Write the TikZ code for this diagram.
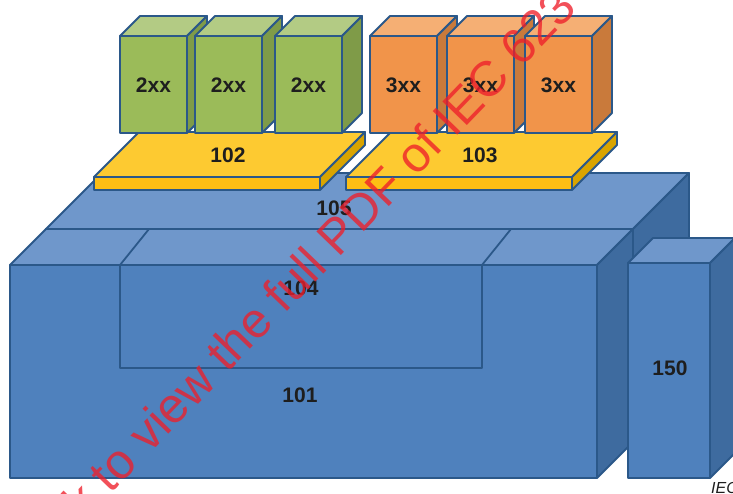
\documentclass[tikz,border=0pt]{standalone}
\usepackage{fontspec}
\setmainfont{Liberation Sans}
\definecolor{edge}{HTML}{2B5889}
\definecolor{blueF}{HTML}{4F81BD}
\definecolor{blueT}{HTML}{6F97CB}
\definecolor{blueS}{HTML}{3E6B9F}
\definecolor{greenF}{HTML}{9BBB59}
\definecolor{greenT}{HTML}{B3CB84}
\definecolor{greenS}{HTML}{7F9B48}
\definecolor{orangeF}{HTML}{F1944A}
\definecolor{orangeT}{HTML}{F5AF74}
\definecolor{orangeS}{HTML}{C97A3B}
\definecolor{yellowF}{HTML}{FDBE14}
\definecolor{yellowT}{HTML}{FDCA31}
\definecolor{yellowS}{HTML}{D9A400}
\definecolor{wmred}{HTML}{EE1F2A}
\definecolor{labeltxt}{HTML}{1E1E1E}

\begin{document}
\begin{tikzpicture}[x=1pt, y=-1pt, line join=round,
    face/.style={draw=edge, line width=1.8pt},
    lbl/.style={font=\fontsize{21}{21}\selectfont\bfseries, text=labeltxt},
    wmtext/.style={font=\fontsize{49.5}{49.5}\selectfont, text=wmred, text opacity=0.78,
        inner sep=0, anchor=base west, rotate=46},
    iec/.style={font=\fontsize{16}{16}\selectfont\itshape, text=labeltxt,
        inner sep=0, anchor=base west}]
    % x y w h depth front top side
    \def\cuboid#1#2#3#4#5#6#7#8{%
        \filldraw[face, fill=#6] (#1,#2) rectangle ++(#3,#4);
        \filldraw[face, fill=#7] (#1,#2) -- ++(#5,-#5) -- ++(#3,0) -- ++(-#5,#5) -- cycle;
        \filldraw[face, fill=#8] (#1,#2) ++(#3,0) -- ++(#5,-#5) -- ++(0,#4) -- ++(-#5,#5) -- cycle;
    }
    \clip (0,0) rectangle (733,493);

    % Back slab 105
    \cuboid{46}{229}{587}{70}{56}{blueF}{blueT}{blueS}
    % Main box 101
    \cuboid{10}{265}{587}{213}{36}{blueF}{blueT}{blueS}
    % Inset 104
    \draw[face] (149,229) -- (120,265) -- (120,368) -- (482,368) -- (482,265) -- (511,229);
    % Box 150
    \cuboid{628}{263}{82}{215}{25}{blueF}{blueT}{blueS}

    % Plates
    \cuboid{94}{177}{226}{13}{45}{yellowF}{yellowT}{yellowS}
    \cuboid{346}{177}{226}{13}{45}{yellowF}{yellowT}{yellowS}

    % Modules
    \foreach \x in {120,195,275}{
        \cuboid{\x}{36}{67}{97}{20}{greenF}{greenT}{greenS}
    }
    \foreach \x in {370,447,525}{
        \cuboid{\x}{36}{67}{97}{20}{orangeF}{orangeT}{orangeS}
    }

    % Labels
    \node[lbl] (m21) at (153.5,85) {2xx};
    \node[lbl] (m22) at (228.5,85) {2xx};
    \node[lbl] (m23) at (308.5,85) {2xx};
    \node[lbl] (m31) at (403.5,85) {3xx};
    \node[lbl] (m32) at (480.5,85) {3xx};
    \node[lbl] (m33) at (558.5,85) {3xx};
    \node[lbl] (p102) at (228,155) {102};
    \node[lbl] (p103) at (480,155) {103};
    \node[lbl] (b105) at (334,208) {105};
    \node[lbl] (b104) at (301,288) {104};
    \node[lbl] (b101) at (300,395) {101};
    \node[lbl] (b150) at (670,368) {150};

    % Watermark and mark
    \node[wmtext] (wm) at (84,522) {k to view the full PDF of IEC 623};
    \node[iec] (iec) at (711,493) {IEC};
\end{tikzpicture}
\end{document}
